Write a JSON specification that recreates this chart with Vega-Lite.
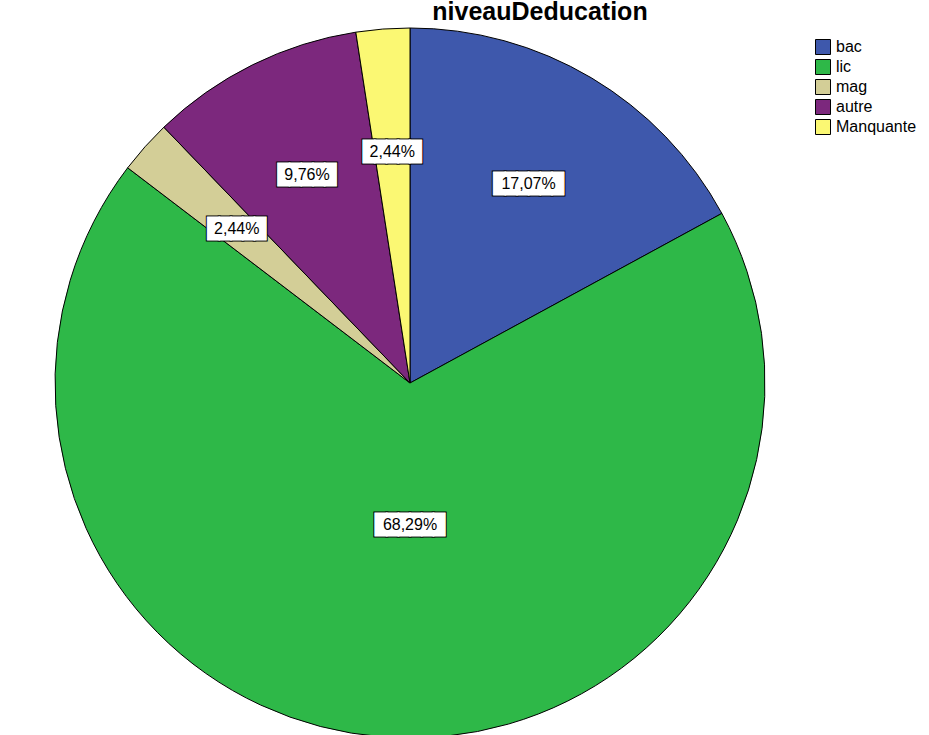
{
  "$schema": "https://vega.github.io/schema/vega-lite/v6.json",
  "width": 820,
  "height": 720,
  "padding": 0,
  "background": "white",
  "title": {"text": "niveauDeducation", "font": "Liberation Sans", "fontSize": 25, "fontWeight": "bold", "color": "black", "anchor": "middle", "frame": "group", "dx": 130, "baseline": "alphabetic", "offset": -22},
  "data": {"values": [
    {"cat": "bac", "n": 7, "k": 1, "label": "17,07%"},
    {"cat": "lic", "n": 28, "k": 2, "label": "68,29%"},
    {"cat": "mag", "n": 1, "k": 3, "label": "2,44%"},
    {"cat": "autre", "n": 4, "k": 4, "label": "9,76%"},
    {"cat": "Manquante", "n": 1, "k": 5, "label": "2,44%"}
  ]},
  "transform": [{"calculate": "pad('', length(datum.label), '█')", "as": "box"}],
  "encoding": {
    "theta": {"field": "n", "type": "quantitative", "stack": true},
    "order": {"field": "k", "type": "quantitative"},
    "detail": {"field": "cat", "type": "nominal"}
  },
  "layer": [
    {
      "mark": {"type": "arc", "radius": 355, "stroke": "black", "strokeWidth": 1},
      "encoding": {
        "color": {
          "field": "cat", "type": "nominal",
          "scale": {"domain": ["bac", "lic", "mag", "autre", "Manquante"], "range": ["#3E58AC", "#2EB848", "#D3CE97", "#7C287D", "#FBF873"]},
          "legend": {"title": null, "orient": "none", "legendX": 815, "legendY": 16, "symbolType": "square", "symbolSize": 225, "symbolStrokeColor": "black", "symbolStrokeWidth": 1, "symbolOpacity": 1, "labelFont": "Liberation Sans", "labelFontSize": 16, "labelColor": "black", "rowPadding": 0, "labelOffset": 5}
        }
      }
    },
    {
      "encoding": {"opacity": {"condition": {"test": "datum.cat === 'lic'", "value": 0}, "value": 1}},
      "layer": [
        {"mark": {"type": "text", "radius": 232, "font": "DejaVu Sans Mono", "fontSize": 19.4, "fill": "white", "stroke": "black", "strokeWidth": 3, "align": "center", "baseline": "middle"}, "encoding": {"text": {"field": "box"}}},
        {"mark": {"type": "text", "radius": 232, "font": "DejaVu Sans Mono", "fontSize": 19.4, "fill": "white", "stroke": "white", "strokeWidth": 1, "align": "center", "baseline": "middle"}, "encoding": {"text": {"field": "box"}}},
        {"mark": {"type": "text", "radius": 232, "font": "Liberation Sans", "fontSize": 16, "fill": "black", "align": "center", "baseline": "middle"}, "encoding": {"text": {"field": "label"}}}
      ]
    },
    {
      "transform": [{"filter": "datum.cat === 'lic'"}],
      "layer": [
        {"mark": {"type": "text", "radius": 142, "font": "DejaVu Sans Mono", "fontSize": 19.4, "fill": "white", "stroke": "black", "strokeWidth": 3, "align": "center", "baseline": "middle"}, "encoding": {"text": {"field": "box"}}},
        {"mark": {"type": "text", "radius": 142, "font": "DejaVu Sans Mono", "fontSize": 19.4, "fill": "white", "stroke": "white", "strokeWidth": 1, "align": "center", "baseline": "middle"}, "encoding": {"text": {"field": "box"}}},
        {"mark": {"type": "text", "radius": 142, "font": "Liberation Sans", "fontSize": 16, "fill": "black", "align": "center", "baseline": "middle"}, "encoding": {"text": {"field": "label"}}}
      ]
    }
  ],
  "resolve": {"scale": {"theta": "independent"}}
}
